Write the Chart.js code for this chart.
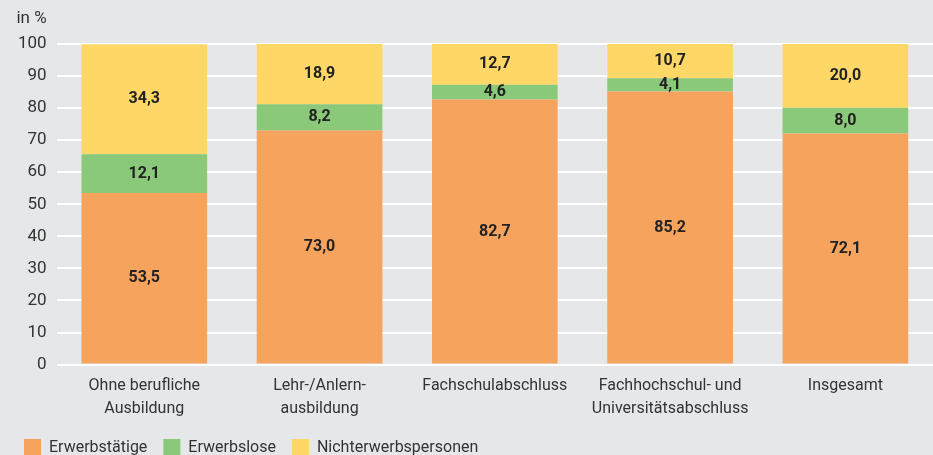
<!DOCTYPE html>
<html><head><meta charset="utf-8">
<script src="https://cdn.jsdelivr.net/npm/chart.js@4"></script>
<style>
html,body{margin:0;padding:0;background:#e6e7e9;}
#wrap{width:933px;height:455px;position:relative;}
</style></head>
<body><div id="wrap"><canvas id="c" width="933" height="455"></canvas></div>
<script>
const categories = [["Ohne berufliche","Ausbildung"],["Lehr-/Anlern-","ausbildung"],"Fachschulabschluss",["Fachhochschul- und","Universitätsabschluss"],"Insgesamt"];
const erwerbstaetige = [53.5, 73.0, 82.7, 85.2, 72.1];
const erwerbslose = [12.1, 8.2, 4.6, 4.1, 8.0];
const nichterwerbspersonen = [34.3, 18.9, 12.7, 10.7, 20.0];
const seriesNames = ["Erwerbstätige","Erwerbslose","Nichterwerbspersonen"];
const yTicks = [0,10,20,30,40,50,60,70,80,90,100];

const FONT = "Roboto, 'Open Sans', sans-serif";
const TXT = '#333333';

const labelPlugin = {
  id:'vals',
  afterDatasetsDraw(chart){
    const ctx = chart.ctx;
    ctx.save();
    ctx.font = "bold 16px " + FONT;
    ctx.fillStyle = '#222';
    ctx.textAlign='center'; ctx.textBaseline='middle';
    chart.data.datasets.forEach((ds,i)=>{
      chart.getDatasetMeta(i).data.forEach((bar,j)=>{
        const v = ds.data[j];
        const y = (bar.y + bar.base)/2;
        ctx.fillText(v.toFixed(1).replace('.',','), bar.x, y);
      });
    });
    ctx.restore();
  }
};
const unitPlugin = {
  id:'unit',
  afterDraw(chart){
    const ctx=chart.ctx;
    ctx.save();
    ctx.font = "17px " + FONT;
    ctx.fillStyle = TXT;
    ctx.textAlign='right'; ctx.textBaseline='middle';
    ctx.fillText('in %', chart.scales.y.right - 10, 19);
    ctx.restore();
  }
};

new Chart(document.getElementById('c'), {
  type:'bar',
  data:{
    labels:categories,
    datasets:[
      {label:seriesNames[0], data:erwerbstaetige, backgroundColor:'#f5a35d'},
      {label:seriesNames[1], data:erwerbslose, backgroundColor:'#8bc97a'},
      {label:seriesNames[2], data:nichterwerbspersonen, backgroundColor:'#ffd766'}
    ]
  },
  options:{
    responsive:false, animation:false,
    layout:{padding:{top:44,right:0,left:8,bottom:-11}},
    datasets:{bar:{categoryPercentage:0.717, barPercentage:1.0, borderWidth:0}},
    scales:{
      x:{stacked:true, grid:{display:false}, border:{display:false},
         ticks:{color:TXT, font:{family:FONT,size:16, lineHeight:1.45}, padding:2, maxRotation:0}},
      y:{stacked:true, min:0, max:100, 
         afterBuildTicks(ax){ ax.ticks = yTicks.map(v=>({value:v})); },
         grid:{color:'#ffffff', lineWidth:2, drawTicks:false},
         border:{display:false},
         ticks:{color:TXT, font:{family:FONT,size:17}, padding:10}}
    },
    plugins:{
      legend:{position:'bottom', align:'start',
        labels:{color:TXT, font:{family:FONT,size:16}, boxWidth:17, boxHeight:17, padding:16}},
      tooltip:{enabled:false}
    }
  },
  plugins:[labelPlugin, unitPlugin]
});
</script></body></html>
